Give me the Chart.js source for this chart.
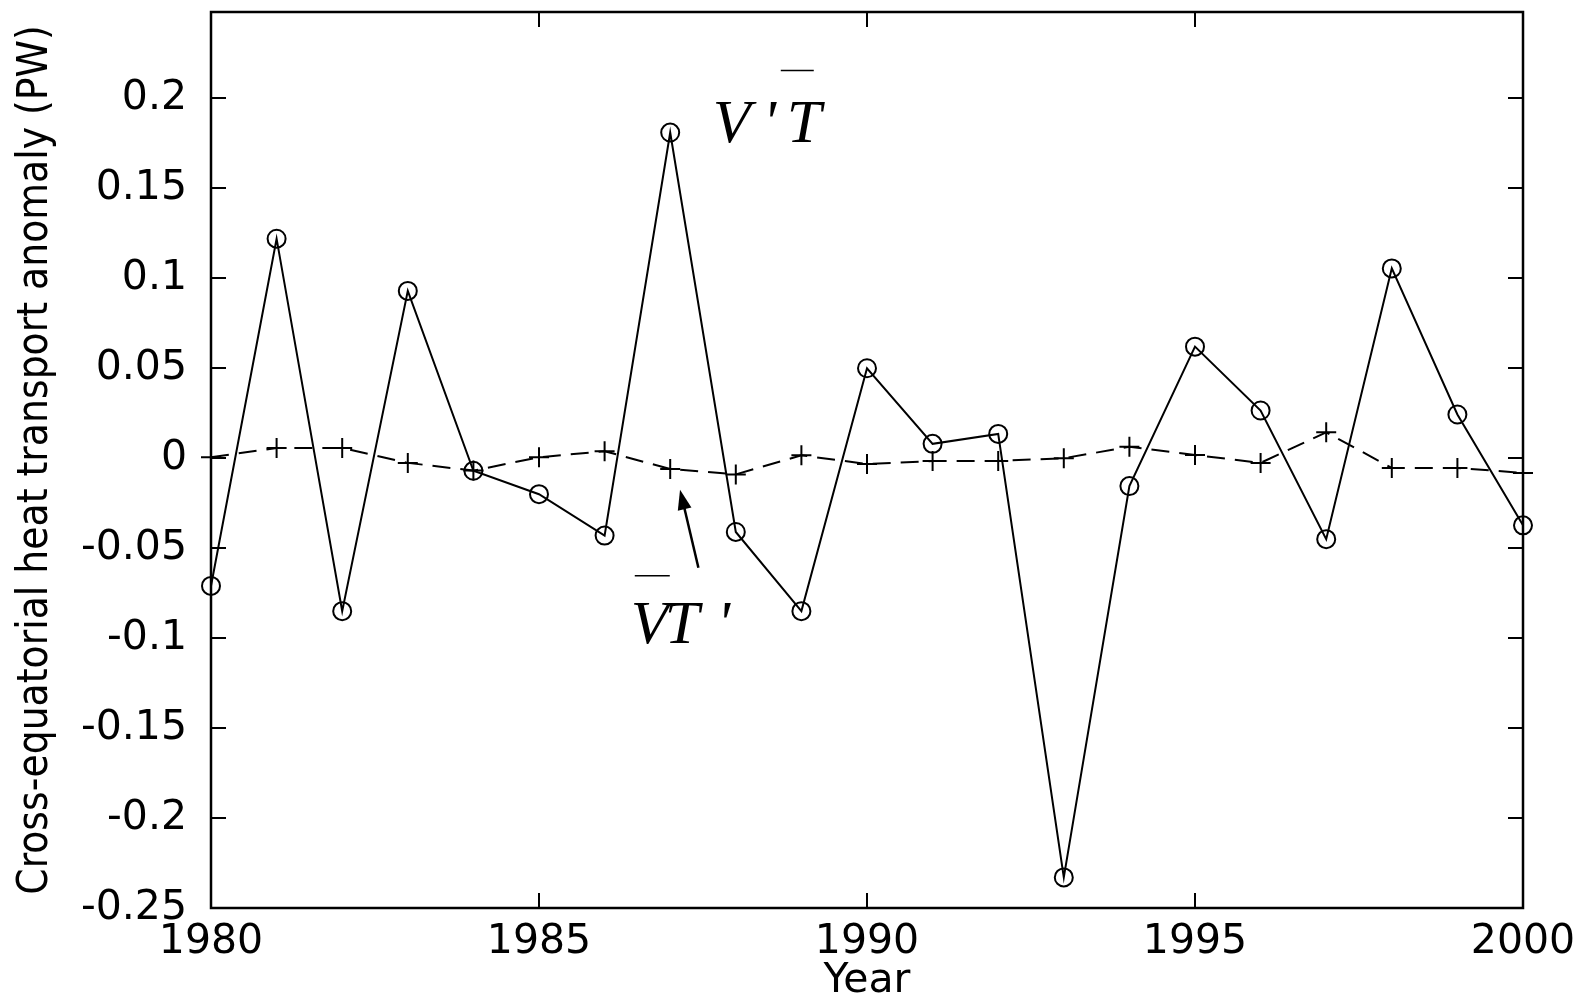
<!DOCTYPE html>
<html>
<head>
<meta charset="utf-8">
<script src="https://cdn.jsdelivr.net/npm/chart.js@4.4.0/dist/chart.umd.min.js"></script>
<style>
  html, body { margin: 0; padding: 0; background: #fff; }
  #wrap { width: 1583px; height: 1002px; }
</style>
</head>
<body>
<div id="wrap"><canvas id="heatChart" width="1583" height="1002"></canvas></div>
<script>
// valores (PW)
const years = [1980, 1981, 1982, 1983, 1984, 1985, 1986, 1987, 1988, 1989, 1990,
               1991, 1992, 1993, 1994, 1995, 1996, 1997, 1998, 1999, 2000];
// V'T (circulos, linea continua)
const eddyTransport = [-0.071, 0.122, -0.085, 0.093, -0.007, -0.020, -0.043, 0.181, -0.041, -0.085, 0.050,
                       0.008, 0.0135, -0.233, -0.0155, 0.062, 0.0265, -0.045, 0.1055, 0.0243, -0.0373];
// VT' (cruces, linea discontinua)
const meanTransport = [0.0005, 0.0057, 0.0057, -0.0026, -0.0069, 0.0005, 0.0039, -0.006, -0.009, 0.0016, -0.0032,
                       -0.0016, -0.0015, 0.0, 0.0063, 0.0018, -0.0026, 0.0144, -0.0054, -0.0054, -0.0082];
const yearTicks = [1980, 1985, 1990, 1995, 2000];
const anomalyTicks = [-0.25, -0.2, -0.15, -0.1, -0.05, 0, 0.05, 0.1, 0.15, 0.2];

const tickFont = { family: '"DejaVu Sans", sans-serif', size: 41 };

// marco tipo Matlab con marcas hacia adentro
const framePlugin = {
    id: 'matlabFrame',
    afterDatasetsDraw(chart) {
        const { ctx, chartArea: a, scales: { x, y } } = chart;
        const len = 15;
        ctx.save();
        ctx.strokeStyle = '#000';
        ctx.lineWidth = 2;
        ctx.beginPath();
        anomalyTicks.forEach(v => {
            const py = Math.round(y.getPixelForValue(v));
            ctx.moveTo(a.left, py); ctx.lineTo(a.left + len, py);
            ctx.moveTo(a.right, py); ctx.lineTo(a.right - len, py);
        });
        yearTicks.forEach(v => {
            const px = Math.round(x.getPixelForValue(v));
            ctx.moveTo(px, a.bottom); ctx.lineTo(px, a.bottom - len);
            ctx.moveTo(px, a.top); ctx.lineTo(px, a.top + len);
        });
        ctx.stroke();
        ctx.lineWidth = 2.5;
        ctx.strokeRect(a.left, a.top, a.right - a.left, a.bottom - a.top);
        ctx.restore();
    },
    afterDraw(chart) {
        const { ctx, scales: { x, y } } = chart;
        ctx.save();
        ctx.fillStyle = '#000';
        ctx.strokeStyle = '#000';
        ctx.font = 'italic 62px "Liberation Serif", "Times New Roman", serif';
        ctx.textBaseline = 'alphabetic';

        // etiqueta V'T con barra sobre T
        let px = x.getPixelForValue(1987.71);
        let py = y.getPixelForValue(0.1755);
        ctx.fillText('V', px - 4, py);
        ctx.fillText("'", px + 46, py);
        ctx.fillText('T', px + 70, py);
        ctx.lineWidth = 1.5;
        ctx.beginPath();
        ctx.moveTo(px + 64, py - 72); ctx.lineTo(px + 97, py - 72);
        ctx.stroke();

        // etiqueta VT' con barra sobre V
        px = x.getPixelForValue(1986.46);
        py = y.getPixelForValue(-0.1026);
        ctx.fillText('V', px - 4, py);
        ctx.fillText('T', px + 30, py);
        ctx.fillText("'", px + 82, py);
        ctx.beginPath();
        ctx.moveTo(px, py - 67); ctx.lineTo(px + 35, py - 67);
        ctx.stroke();

        // flecha hacia la curva VT'
        const x0 = x.getPixelForValue(1987.43), y0 = y.getPixelForValue(-0.0609);
        const x1 = x.getPixelForValue(1987.15), y1 = y.getPixelForValue(-0.0175);
        const ang = Math.atan2(y1 - y0, x1 - x0);
        const head = 20;
        ctx.lineWidth = 2.5;
        ctx.beginPath();
        ctx.moveTo(x0, y0);
        ctx.lineTo(x1 - Math.cos(ang) * head * 0.8, y1 - Math.sin(ang) * head * 0.8);
        ctx.stroke();
        ctx.beginPath();
        ctx.moveTo(x1, y1);
        ctx.lineTo(x1 - head * Math.cos(ang) + 7 * Math.sin(ang), y1 - head * Math.sin(ang) - 7 * Math.cos(ang));
        ctx.lineTo(x1 - head * Math.cos(ang) - 7 * Math.sin(ang), y1 - head * Math.sin(ang) + 7 * Math.cos(ang));
        ctx.closePath();
        ctx.fill();
        ctx.restore();
    }
};

const ctx = document.getElementById('heatChart').getContext('2d');
new Chart(ctx, {
    type: 'line',
    data: {
        datasets: [{
            label: "V'T",
            data: years.map((yr, i) => ({ x: yr, y: eddyTransport[i] })),
            borderColor: '#000',
            borderWidth: 2,
            pointStyle: 'circle',
            pointRadius: 9,
            pointBorderWidth: 2,
            pointBorderColor: '#000',
            pointBackgroundColor: 'rgba(0,0,0,0)',
            tension: 0,
            clip: false
        }, {
            label: "VT'",
            data: years.map((yr, i) => ({ x: yr, y: meanTransport[i] })),
            borderColor: '#000',
            borderWidth: 2,
            borderDash: [18, 10],
            pointStyle: 'cross',
            pointRadius: 10,
            pointBorderWidth: 2,
            pointBorderColor: '#000',
            tension: 0,
            clip: false
        }]
    },
    options: {
        responsive: false,
        animation: false,
        devicePixelRatio: 1,
        layout: { padding: { left: 0, right: 60, top: 12, bottom: 0 } },
        plugins: {
            legend: { display: false },
            tooltip: { enabled: false }
        },
        scales: {
            x: {
                type: 'linear',
                min: 1980,
                max: 2000,
                afterBuildTicks: axis => { axis.ticks = yearTicks.map(v => ({ value: v })); },
                afterFit: axis => { axis.height = 94; axis.paddingLeft = 0; axis.paddingRight = 0; },
                grid: { display: false },
                border: { display: false },
                ticks: {
                    color: '#000',
                    font: tickFont,
                    padding: 2,
                    maxRotation: 0,
                    callback: v => String(v)
                },
                title: {
                    display: true,
                    text: 'Year',
                    color: '#000',
                    font: { family: '"DejaVu Sans", sans-serif', size: 41, lineHeight: 1 },
                    padding: { top: 0, bottom: 0 }
                }
            },
            y: {
                type: 'linear',
                min: -0.25,
                max: 0.248,
                afterBuildTicks: axis => { axis.ticks = anomalyTicks.map(v => ({ value: v })); },
                afterFit: axis => { axis.width = 211; axis.paddingTop = 0; axis.paddingBottom = 0; },
                grid: { display: false },
                border: { display: false },
                ticks: {
                    color: '#000',
                    font: tickFont,
                    padding: 16,
                    callback: v => String(Number(v.toFixed(2)))
                },
                title: {
                    display: true,
                    text: 'Cross-equatorial heat transport anomaly (PW)',
                    color: '#000',
                    font: { family: '"DejaVu Sans Condensed", "DejaVu Sans", sans-serif', size: 42 },
                    padding: { top: 11, bottom: 0 }
                }
            }
        }
    },
    plugins: [framePlugin]
});
</script>
</body>
</html>
